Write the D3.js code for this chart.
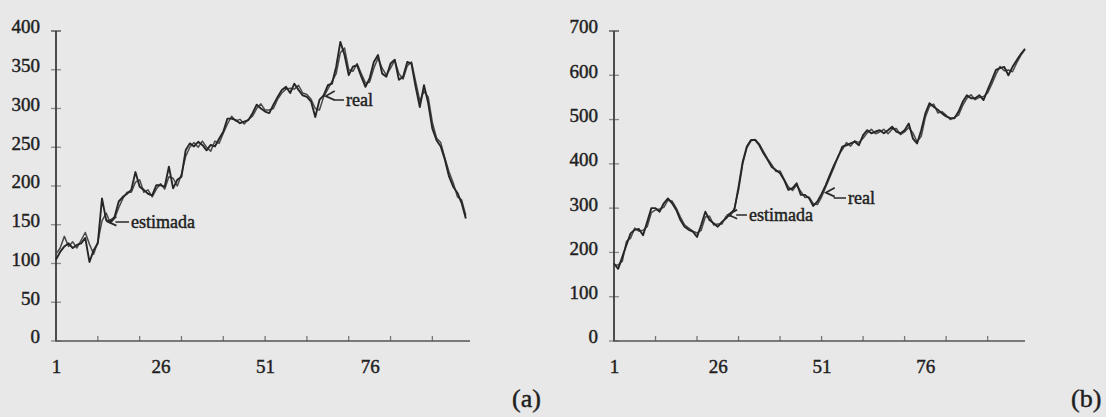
<!DOCTYPE html>
<html>
<head>
<meta charset="utf-8">
<script src="https://cdn.jsdelivr.net/npm/d3@7/dist/d3.min.js"></script>
<style>
  html, body { margin: 0; padding: 0; background: #e8e8e8; }
  svg { display: block; }
  text { font-family: "Liberation Serif", "Times New Roman", serif; fill: #1f1f1f; stroke: #1f1f1f; stroke-width: 0.45px; }
</style>
</head>
<body>
<svg id="chart" width="1106" height="417"></svg>
<script>
// ---- (a) series ----
const realA = [105,115,122,126,120,124,126,133,102,117,
  126,184,156,154,160,180,186,190,195,218,
  199,195,190,188,201,201,199,225,197,208,
  212,246,255,251,257,253,246,253,251,261,
  270,287,287,285,281,283,285,294,305,300,
  296,294,305,315,324,328,320,332,324,317,
  315,309,289,311,317,330,332,354,386,369,
  343,354,356,341,328,339,360,369,345,341,
  358,363,337,341,360,358,328,302,330,307,
  274,259,251,234,212,199,191,178,158];
const estA = [112,120,135,122,128,120,130,140,125,112,
  128,155,165,152,158,172,184,192,192,205,
  208,192,195,186,196,203,196,212,210,200,
  215,238,250,256,250,258,250,245,258,255,
  268,280,290,284,286,280,286,290,300,306,
  298,298,300,312,320,325,326,325,330,320,
  318,312,300,298,315,325,335,345,372,378,
  350,348,358,345,333,334,352,365,352,343,
  352,362,345,338,355,360,335,310,322,315,
  282,262,256,236,218,204,186,182,162];

// ---- (b) series ----
const realB = [175,163,190,217,243,251,253,239,269,300,
  300,292,311,322,311,296,273,258,251,247,
  235,262,292,273,266,258,269,277,288,296,
  348,405,439,454,454,442,424,409,393,386,
  379,363,341,345,356,330,330,322,305,315,
  332,352,375,397,416,439,442,446,450,442,
  465,476,469,473,476,469,476,484,473,469,
  476,491,457,446,476,514,537,529,522,514,
  507,503,503,518,540,555,548,548,555,544,
  567,589,612,616,619,600,619,634,648,660];
const estB = [170,172,180,225,232,255,248,250,258,290,
  296,298,302,318,316,300,280,262,255,248,
  244,250,280,282,262,264,264,282,282,300,
  340,400,436,452,455,445,428,412,398,383,
  384,365,348,340,352,338,324,325,310,308,
  325,348,370,392,418,432,448,440,452,448,
  458,470,478,468,472,478,468,478,480,466,
  472,482,470,450,462,505,530,535,515,518,
  510,500,505,510,532,548,556,545,550,552,
  560,580,602,620,610,612,608,628,645,658];

// ---- axis ticks ----
const yTicksA = [0,50,100,150,200,250,300,350,400];
const yTicksB = [0,100,200,300,400,500,600,700];
const xLabels = [1,26,51,76];
const xMarks = [11,21,31,41,51,61,71,81,91];

const svg = d3.select("#chart");

function panel(cfg) {
  const g = svg.append("g");
  const x = d3.scaleLinear().domain([1, 100]).range([cfg.left, cfg.right]);
  const y = d3.scaleLinear().domain([0, cfg.yMax]).range([341, 31]);

  // y tick labels (baseline sits on the tick)
  const ya = d3.axisLeft(y).tickValues(cfg.yTicks).tickSize(0).tickPadding(16);
  const yg = g.append("g").attr("transform", `translate(${cfg.left},0)`).call(ya);
  yg.select(".domain").remove();
  yg.selectAll("text").attr("dy", "0.1em").style("font-size", "19px")
    .style("font-family", '"Liberation Serif", serif').attr("fill", "#1f1f1f");

  // short crossing tick marks on the y axis
  g.selectAll(".yt").data(cfg.yTicks).enter().append("line")
    .attr("x1", cfg.left - 5).attr("x2", cfg.left + 5)
    .attr("y1", d => y(d)).attr("y2", d => y(d))
    .attr("stroke", (d, i) => i === cfg.yTicks.length - 1 ? "#444" : "#8a8a8a")
    .attr("stroke-width", 1.3);

  // x tick labels
  const xa = d3.axisBottom(x).tickValues(xLabels).tickSize(0).tickPadding(19);
  const xg = g.append("g").attr("transform", "translate(0,341)").call(xa);
  xg.select(".domain").remove();
  xg.selectAll("text").attr("dy", "0.71em").style("font-size", "19px")
    .style("font-family", '"Liberation Serif", serif').attr("fill", "#1f1f1f");

  // small upward marks on the x axis
  g.selectAll(".xt").data(xMarks).enter().append("line")
    .attr("x1", d => x(d)).attr("x2", d => x(d))
    .attr("y1", 341).attr("y2", 336)
    .attr("stroke", "#777").attr("stroke-width", 1.3);

  // axis lines
  g.append("line").attr("x1", cfg.left).attr("x2", cfg.left)
    .attr("y1", y(cfg.yMax)).attr("y2", 341.5)
    .attr("stroke", "#3c3c3c").attr("stroke-width", 1.8);
  g.append("line").attr("x1", cfg.left).attr("x2", cfg.right)
    .attr("y1", 341).attr("y2", 341)
    .attr("stroke", "#555").attr("stroke-width", 1.6);

  const line = d3.line().x((d, i) => x(i + 1)).y(d => y(d));
  g.append("path").datum(cfg.est).attr("d", line)
    .attr("fill", "none").attr("stroke", "#4a4a4a").attr("stroke-width", 1.5)
    .attr("stroke-linejoin", "round");
  g.append("path").datum(cfg.real).attr("d", line)
    .attr("fill", "none").attr("stroke", "#262626").attr("stroke-width", 1.9)
    .attr("stroke-linejoin", "round");

  // callouts
  cfg.notes.forEach(n => {
    const tx = x(n.i), ty = y(n.v);
    g.append("path")
      .attr("d", `M${n.tx - 2},${n.ty - 6} L${tx + 8},${n.ty - 6} M${tx + 9},${ty - 5} L${tx},${ty} L${tx + 9},${ty + 4}`)
      .attr("fill", "none").attr("stroke", "#2a2a2a").attr("stroke-width", 1.7);
    g.append("text").attr("x", n.tx).attr("y", n.ty)
      .style("font-size", "18px").text(n.label);
  });

  g.append("text").attr("x", cfg.tag[0]).attr("y", cfg.tag[1])
    .style("font-size", "26px").text(cfg.tagText);
}

panel({
  left: 56, right: 470, yMax: 400, yTicks: yTicksA,
  real: realA, est: estA,
  notes: [
    { label: "real", i: 65.5, v: 316, tx: 346, ty: 106 },
    { label: "estimada", i: 13.3, v: 154, tx: 131, ty: 228 }
  ],
  tag: [512, 407], tagText: "(a)"
});

panel({
  left: 614, right: 1025, yMax: 700, yTicks: yTicksB,
  real: realB, est: estB,
  notes: [
    { label: "real", i: 52, v: 335, tx: 848, ty: 204 },
    { label: "estimada", i: 28.5, v: 285, tx: 749, ty: 221 }
  ],
  tag: [1071, 407], tagText: "(b)"
});
</script>
</body>
</html>
